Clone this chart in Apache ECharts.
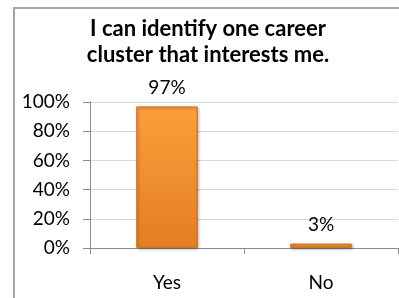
<!DOCTYPE html>
<html>
<head>
<meta charset="utf-8">
<style>
  html, body { margin: 0; padding: 0; background: #fff; overflow: hidden; }
  #chart { width: 399px; height: 298px; }
</style>
<script src="https://cdn.jsdelivr.net/npm/echarts@6/dist/echarts.min.js"></script>
</head>
<body>
<div id="chart"></div>
<script>
var titleLines = ['I can identify one career', 'cluster that interests me.'];
var categories = ['Yes', 'No'];
var values = [97, 3];
var tickValues = [0, 20, 40, 60, 80, 100];

var font = 'Lato, "Open Sans", sans-serif';
var myChart = echarts.init(document.getElementById('chart'));

var frameStyle = { stroke: '#a6a6a6', lineWidth: 2 };

var option = {
    animation: false,
    title: {
        text: titleLines.join('\n'),
        left: 203,
        top: 11,
        textAlign: 'center',
        textStyle: {
            fontFamily: font,
            fontSize: 22,
            fontWeight: 'bold',
            color: '#000',
            lineHeight: 26
        }
    },
    // chart frame: only its left and top edges fall inside the picture
    graphic: [
        { type: 'line', shape: { x1: 14, y1: 8, x2: 14, y2: 298 }, style: frameStyle, silent: true },
        { type: 'line', shape: { x1: 13, y1: 8, x2: 399, y2: 8 }, style: frameStyle, silent: true }
    ],
    grid: { left: 90, right: 1, top: 102, bottom: 50 },
    xAxis: {
        type: 'category',
        data: categories,
        splitLine: { show: false },
        axisLine: { lineStyle: { color: '#8c8c8c' } },
        axisTick: { show: true, length: 6, lineStyle: { color: '#8c8c8c' } },
        axisLabel: { fontFamily: font, fontSize: 19, color: '#000', margin: 25 }
    },
    yAxis: {
        type: 'value',
        min: 0,
        max: 100,
        interval: 20,
        axisLine: { show: true, lineStyle: { color: '#8c8c8c' } },
        axisTick: { show: true, length: 7, lineStyle: { color: '#8c8c8c' } },
        axisLabel: {
            fontFamily: font, fontSize: 19, color: '#000', margin: 20,
            formatter: function (v) { return tickValues.indexOf(v) >= 0 ? v + '%' : ''; }
        },
        splitLine: { lineStyle: { color: '#d9d9d9', width: 1 } }
    },
    series: [{
        type: 'bar',
        data: values,
        barWidth: '40%',
        itemStyle: {
            color: new echarts.graphic.LinearGradient(0, 0, 0, 1, [
                { offset: 0, color: '#fb9f3c' },
                { offset: 1, color: '#e47f22' }
            ]),
            borderColor: '#cf7419',
            borderWidth: 1,
            shadowColor: 'rgba(0,0,0,0.35)',
            shadowBlur: 3,
            shadowOffsetX: 1,
            shadowOffsetY: 1
        },
        label: {
            show: true,
            position: 'top',
            distance: 9,
            formatter: '{c}%',
            fontFamily: font,
            fontSize: 19,
            color: '#000'
        }
    }]
};

myChart.setOption(option);
</script>
</body>
</html>
